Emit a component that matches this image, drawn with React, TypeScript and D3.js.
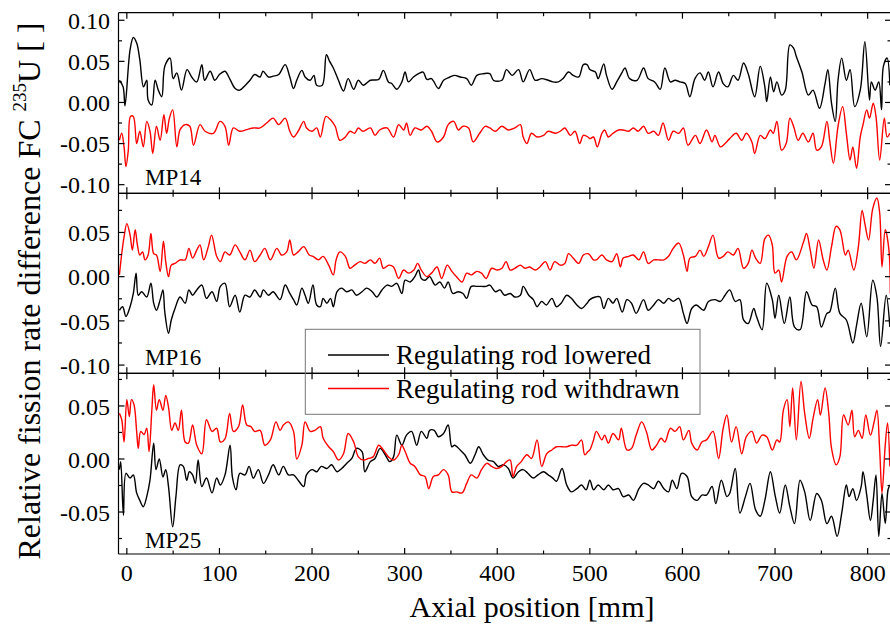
import React from 'react';
import * as d3 from 'd3';

const FONT = '"Liberation Serif", "Times New Roman", Times, serif';

// ---------- data: [axial position mm, relative difference] ----------
const mp14Lowered: [number, number][] = [[-8,.027],[-4,.019],[-2,-.004],[3.5,.064],[7,.079],[10.7,.072],[14,.052],[18,.019],[21.5,.027],[23,.003],[27,-.003],[30.5,.027],[34,.015],[37.7,.007],[41,.044],[46.7,.054],[50,.029],[54,.036],[59,.015],[65,.040],[70,.031],[75.5,.025],[81,.046],[84,.027],[90,.038],[95,.027],[100,.034],[106,.038],[111,.029],[117,.017],[122,.015],[128,.021],[133,.027],[138,.034],[144,.031],[147,.038],[153,.031],[158,.032],[164,.034],[171,.046],[176,.031],[180,.017],[183.5,.027],[189,.039],[192.5,.031],[198,.027],[202,.033],[205,.021],[211,.021],[215.5,.058],[219,.050],[223,.042],[228.5,.027],[234,.014],[239,.029],[245,.016],[250,.027],[255.5,.021],[263,.027],[272,.028],[277,.039],[282.5,.025],[286,.023],[291.5,.016],[297,.025],[300.5,.037],[304,.025],[309.5,.031],[315,.035],[320,.037],[324,.028],[329,.029],[336.5,.017],[342,.027],[349,.031],[354,.033],[360,.031],[367,.029],[372,.021],[378,.033],[385,.035],[392,.035],[396,.027],[405,.027],[410,.040],[416,.033],[423,.040],[428,.025],[435,.040],[441,.027],[448,.029],[455,.027],[460,.025],[466,.025],[471,.029],[477,.037],[482,.033],[488,.031],[493,.046],[497,.046],[500,.040],[506,.037],[509,.029],[515,.047],[518,.033],[524,.016],[529,.025],[535,.037],[538,.042],[543,.029],[551,.027],[558,.042],[563,.029],[570,.025],[576,.016],[581,.042],[587,.025],[592,.027],[597.5,.025],[603,.023],[608,.007],[613.5,.029],[619,.036],[624,.027],[628,.037],[633,.019],[639,.037],[644,.023],[649,.019],[655,.033],[660,.027],[666,.048],[671,.035],[678,.007],[684,.044],[689,.019],[691,.001],[695,.031],[698.5,.013],[702,.025],[707,.009],[711,.015],[716,.070],[720,.066],[723,.056],[729,.037],[736,.009],[741,.015],[748,-.007],[754,.023],[757,.040],[761,-.001],[765,-.023],[768,.027],[772,.054],[777,.027],[781,.040],[786,-.005],[792,.015],[797,.074],[802,.003],[804,.025],[808,.015],[812,.025],[815,-.009],[817,.044],[821,.054],[824,.021]];

const mp14Withdrawn: [number, number][] = [[-8,-.046],[-5.5,-.0375],[-3,-.054],[-1,-.078],[1.6,-.058],[4,-.017],[7,-.017],[10.6,-.050],[14,-.035],[17.8,-.054],[21.5,-.023],[25,-.035],[28,-.062],[32,-.029],[36,-.046],[40,-.015],[43,-.0375],[46,-.019],[49.5,-.009],[54,-.054],[57.5,-.033],[63,-.027],[68,-.029],[72,-.052],[79,-.027],[84.5,-.035],[93.5,-.0375],[100.6,-.023],[106,-.029],[110,-.052],[115,-.031],[122,-.035],[129.5,-.033],[136.6,-.031],[144,-.031],[151,-.025],[158,-.019],[164,-.027],[171,-.019],[176,-.035],[180,-.042],[185,-.035],[191,-.023],[194,-.031],[200,-.035],[205,-.031],[209,-.042],[215,-.017],[220,-.021],[225,-.029],[230,-.046],[236,-.042],[241,-.035],[246,-.0375],[250,-.031],[255,-.035],[263,-.031],[268,-.040],[273,-.0335],[281,-.031],[288,-.042],[293.5,-.027],[299,-.0335],[302,-.025],[306,-.040],[311,-.031],[318,-.0335],[324,-.029],[329,-.035],[335,-.048],[342,-.042],[347,-.027],[353,-.023],[358,-.0335],[363,-.029],[369,-.031],[374,-.048],[381,-.0375],[387,-.029],[392,-.031],[398,-.035],[405,-.029],[412,-.0335],[419,-.031],[425,-.027],[428,-.042],[432,-.050],[437,-.0375],[443,-.042],[450,-.040],[455,-.035],[463,-.0375],[468,-.035],[473,-.031],[479,-.040],[484,-.035],[489,-.050],[493,-.040],[498,-.042],[500,-.044],[504,-.042],[508,-.054],[513,-.0375],[516,-.0335],[520,-.042],[525,-.0375],[531,-.0335],[536,-.0335],[542,-.035],[547,-.031],[552,-.035],[558,-.029],[563,-.0375],[569,-.035],[574,-.040],[579,-.025],[585,-.046],[590,-.035],[596,-.0375],[601,-.031],[606,-.052],[614,-.040],[619,-.050],[626,-.0335],[632,-.048],[635,-.040],[641,-.054],[646,-.050],[651,-.044],[658,-.0375],[664,-.046],[669,-.0375],[675,-.048],[678,-.062],[684,-.040],[689,-.044],[695,-.0335],[698,-.0375],[702,-.023],[707,-.058],[712,-.050],[716,-.019],[720,-.029],[725,-.046],[730,-.0375],[736,-.048],[741,-.0375],[745,-.058],[750,-.054],[756,-.023],[759,-.046],[763,-.074],[768,-.029],[773,-.005],[777,-.0375],[781,-.070],[784,-.054],[788,-.080],[792,-.042],[795,-.027],[799,-.009],[802,-.019],[806,-.001],[809,-.017],[813,-.070],[818,-.019],[821,-.042],[824,-.0375]];

const mp16Lowered: [number, number][] = [[-8,-.038],[-4.5,-.034],[-1,-.045],[3.5,-.034],[7,-.019],[10,.004],[12.4,-.021],[16,-.017],[21.5,-.023],[26,-.0075],[29,-.030],[32,-.038],[36,-.026],[39,-.015],[41,-.040],[45,-.064],[48,-.049],[52,-.036],[57.5,-.023],[63,-.030],[67,-.015],[71,-.021],[75.5,-.015],[81,-.0095],[86,-.0245],[92,-.017],[97,-.028],[101,-.011],[106,-.0075],[111,-.034],[117,-.021],[122,-.040],[127.6,-.021],[133,-.023],[138,-.015],[144,-.023],[147.5,-.015],[153,-.021],[158,-.017],[165.5,-.026],[171,-.0095],[176,-.019],[180,-.026],[183.5,-.032],[189,-.013],[192.5,-.021],[196,-.030],[201,-.0095],[205,-.032],[209,-.034],[212,-.0245],[216,-.030],[220,-.0245],[223,-.034],[227,-.017],[232,-.013],[237.5,-.017],[243,-.015],[248,-.021],[254,-.017],[259,-.013],[265,-.017],[270,-.023],[275.5,-.015],[281,-.0095],[286,-.011],[291.5,-.0075],[297,-.019],[300.5,-.004],[306,-.006],[311,0],[315,.0075],[318,-.002],[322,-.004],[327,0],[333,-.0095],[338,-.006],[343,-.013],[347,-.006],[352,-.019],[358,-.017],[363,-.019],[367,-.0245],[372,-.011],[378,-.011],[383,-.011],[388,-.011],[392,-.0095],[398,-.017],[403,-.015],[408,-.021],[414,-.019],[419,-.023],[425,-.021],[428,-.011],[434,-.021],[439,-.026],[443,-.034],[448,-.028],[453,-.032],[459,-.0245],[464,-.034],[469,-.030],[475,-.021],[480,-.0245],[486,-.032],[491,-.036],[497,-.030],[500,-.026],[506,-.023],[511,-.023],[515,-.036],[520,-.0245],[525,-.030],[529,-.0245],[535,-.040],[540,-.026],[545,-.030],[550,-.0415],[558,-.026],[563,-.038],[569,-.032],[574,-.026],[580,-.030],[585,-.0245],[590,-.028],[596,-.0245],[601,-.0415],[605,-.053],[610,-.036],[615,-.032],[623,-.038],[628,-.028],[635,-.026],[641,-.028],[646,-.021],[651,-.015],[657,-.028],[662,-.026],[666,-.049],[671,-.053],[677,-.036],[680,-.045],[686,-.060],[691,-.0075],[697,-.026],[700,-.047],[704,-.021],[710,-.053],[716,-.023],[721,-.057],[727,-.060],[734,-.017],[740,-.032],[745,-.034],[750,-.057],[756,-.0415],[759,-.040],[765,-.013],[770,-.0415],[777,-.049],[784,-.075],[788,-.055],[793,-.030],[799,-.068],[805.5,-.004],[810,-.023],[814,-.079],[820,-.021],[824,-.057]];

const mp16Withdrawn: [number, number][] = [[-8,.002],[-5.5,.026],[-3,.045],[0,.060],[3.5,.047],[6,.030],[9,.053],[11.4,.036],[14,.0245],[17,.028],[19.6,.019],[23,.0245],[26,.049],[29,.026],[32,.0245],[36,.006],[39.5,.040],[42,.017],[45,0],[48,.013],[52,.015],[57.5,.019],[63,.019],[67,.032],[71,.021],[75.5,.030],[79,.036],[83,.019],[88,.034],[91.5,.047],[97,.023],[101,.017],[106,.028],[111,.0245],[117,.036],[122,.028],[127.6,.019],[133,.030],[138,.017],[144,.0245],[149,.032],[155,.019],[162,.032],[167,.0245],[172.6,.028],[176,.0415],[180,.0245],[185,.028],[191,.034],[197,.0245],[201,.023],[207,.019],[212,.023],[218,.013],[223,.002],[226,.019],[230,.028],[236,.023],[241,.0095],[246,.013],[252,.017],[257,.015],[263,.019],[268,.015],[273,.021],[277,.0095],[283,.013],[288,.011],[293.5,-.002],[299,.0075],[304,.004],[310,.0075],[314,.015],[318,.0075],[324,0],[329,.004],[335,.011],[340,-.002],[346,.013],[351,.006],[356,0],[362,-.006],[367,.004],[372,.002],[378,.006],[383,.004],[388,-.002],[394,.0095],[400,.0075],[405,.0095],[409.5,.017],[414,.0075],[419,.0095],[425,.013],[430,.0095],[435,.011],[441,.0075],[446,.011],[452,.017],[457,.0075],[462,.017],[468,.013],[473,.015],[477,.026],[482,.021],[488,.015],[493,.0245],[498,.026],[500,.0245],[504,.019],[507,.019],[513,.0245],[518,.019],[524,.017],[529,.026],[533,.011],[536,.021],[542,.023],[547,.0245],[553,.019],[558,.028],[563,.015],[569,.019],[574,.019],[580,.019],[585,.023],[590,.032],[596,.038],[601,.0245],[605,.006],[608,.021],[614,.023],[619,.030],[623,.023],[628,.034],[633,.047],[639,.021],[644,.023],[649,.028],[655,.0245],[660,.032],[666,.0095],[671,.015],[675,.030],[679,.021],[684,.015],[689,.043],[693,.047],[697,.036],[700,.004],[704,.0075],[707,-.006],[713,.023],[718,.028],[723,.019],[731,.040],[734,.049],[738,.030],[742,.0095],[747,.0415],[752,.019],[756,.0075],[761,.034],[766,.057],[770,.053],[776,.0245],[779,.030],[785,.0075],[790,.034],[794,.075],[797,.060],[801,.0415],[805.5,.077],[810,.089],[813,.072],[815.5,.011],[819,.053],[823,.030],[824.5,-.019]];

const mp25Lowered: [number, number][] = [[-8,-.010],[-6.6,-.0025],[-3.7,-.053],[-0.9,-.0135],[3.5,-.018],[7,-.015],[10.6,-.032],[14,-.039],[17.8,-.045],[21.5,-.0355],[25,-.020],[29,.015],[31.5,-.010],[35,0],[39,-.017],[42,-.010],[45,-.026],[49.5,-.064],[53,-.0355],[57.5,-.0055],[61,-.007],[64.7,-.020],[67.5,-.012],[71,-.015],[74,-.023],[77,-.001],[81,-.026],[86,-.018],[92,-.032],[97,-.018],[101,-.0245],[106,-.015],[111.5,.013],[114,-.017],[118,-.029],[122,-.0135],[127.6,-.015],[132,-.007],[136.6,-.018],[142,-.010],[147.5,-.023],[153,-.015],[158,-.0055],[164,-.015],[169,-.007],[174.5,-.015],[180,-.015],[185,-.020],[191,-.026],[194,-.015],[200,-.010],[205,-.012],[210,-.007],[216,-.009],[221,-.0055],[227,-.012],[232,-.009],[237.5,-.004],[243,.0005],[248,.010],[254,.007],[257,-.012],[263,-.0025],[268,.0005],[273.5,.010],[279,.004],[284,-.0025],[288,.002],[291.5,.0225],[297,.013],[302,.0225],[307.5,.026],[313,.013],[318,.026],[324,.0195],[327,.027],[332,.027],[336.5,.021],[342,.024],[347,.032],[351,.0115],[354,.013],[360,.0085],[365,.004],[371,-.004],[376,.004],[380,.0115],[385,.004],[390,-.001],[396,-.0025],[401,-.007],[407,-.0055],[412,-.009],[417,-.018],[423,-.012],[428,-.010],[433,-.0135],[439,-.018],[444,-.015],[450,-.012],[455,-.015],[460,-.018],[464,-.021],[470,-.009],[475,-.0245],[480,-.031],[486,-.028],[491,-.0245],[496,-.029],[500,-.020],[504,-.029],[509,-.0245],[515,-.029],[520,-.0245],[525,-.029],[531,-.028],[536,-.0355],[542,-.034],[547,-.039],[553,-.028],[558,-.023],[563,-.0245],[569,-.028],[574,-.021],[580,-.028],[585,-.031],[589,-.020],[594,-.028],[599,-.0135],[605,-.0165],[610,-.0355],[616,-.039],[621,-.034],[626,-.034],[632,-.026],[636,-.042],[642,-.020],[648,-.0355],[651,-.0325],[657,-.009],[662,-.051],[668,-.0355],[673,-.023],[679,-.048],[684,-.054],[689,-.039],[695,-.012],[700,-.034],[705,-.051],[711,-.0245],[716,-.045],[721,-.061],[727,-.020],[732,-.031],[738,-.058],[745,-.0325],[750,-.039],[756,-.061],[761,-.054],[767,-.073],[772,-.051],[777,-.0245],[780,-.0355],[784,-.028],[788,-.039],[793,-.026],[795,-.012],[799,-.034],[803,-.058],[806,-.039],[809,-.015],[812,-.073],[815.5,-.0325],[819,-.061],[822,-.029],[824,-.0245]];

const mp25Withdrawn: [number, number][] = [[-8,.043],[-5.5,.037],[-3,.016],[0,.056],[2.7,.040],[5,.056],[7.8,.051],[10.6,.026],[12.4,.010],[15,.026],[18.6,.023],[21.5,.029],[24,.007],[27,.046],[29,.070],[32,.046],[35,.056],[39,.046],[42,.060],[45,.049],[48.5,.027],[52,.034],[55.6,.027],[59,.046],[63,.016],[66.5,.015],[71,.032],[75.5,.013],[81,.005],[86,.037],[92,.026],[97,.029],[101,.016],[106,.019],[111,.043],[115,.026],[120.6,.0305],[125,.051],[129.5,.032],[134,.0305],[138,.026],[144,.027],[149,.013],[155,.018],[161,.035],[165.5,.027],[169,.032],[174.5,.035],[180,.026],[183.5,0],[189,.013],[192.5,.035],[198,.026],[203,.027],[209,.0305],[212,.0195],[218,.0115],[223,.007],[228.5,-.001],[234,.005],[239,.024],[245,.016],[250,.002],[255.5,-.001],[261,.0005],[266,.002],[272,.013],[277,.0085],[282.5,.002],[288,-.001],[293.5,.004],[297,.013],[300.5,.007],[306,-.004],[311,-.007],[317,-.015],[322,-.0165],[326,-.028],[331,-.0165],[336.5,-.015],[342,-.010],[347,-.015],[351,-.031],[356,-.031],[362,-.032],[367,-.023],[372,-.015],[378,-.018],[383,-.010],[389,-.004],[394,-.007],[399,-.009],[405,-.007],[410,-.0025],[414,-.001],[417,-.0165],[421,-.007],[426,-.0025],[432,.004],[437,.0005],[443,.018],[448,-.007],[453.5,.005],[459,.0085],[464,.0115],[470,.0115],[475,.0115],[480,.013],[486,.013],[491,.018],[494.5,.004],[498,.007],[500,.0085],[504,.018],[507,.026],[513,.018],[516,.0225],[520,.015],[525,.024],[531,.018],[534,.029],[540,.0085],[545,.010],[550,.0225],[556,.035],[561,.026],[567,.0085],[572,.013],[577,.0195],[581,.016],[587,.029],[592,.026],[597,.0305],[601,.018],[607,.027],[610,.015],[616,.0085],[621,.016],[626,.018],[633,.026],[639,.0005],[644,.029],[648,.0415],[653,.016],[658,.0305],[664,.005],[669,.021],[675,.026],[680,.015],[686,.0225],[691,.021],[697,.0085],[702,.018],[705,.016],[709,.046],[713,.056],[716,.0305],[719,.067],[723,.018],[728,.073],[732,.043],[737,.0195],[741,.038],[746,.056],[749,.0415],[754,.067],[758,.043],[761,.010],[766,-.0055],[770,.002],[774,.0415],[779,.032],[783,.046],[786,.021],[790,.027],[794,.0195],[798,.0415],[803,.0225],[807,.035],[810,.046],[813,.0085],[815.5,-.032],[819,.013],[821.5,.034],[824,-.007]];

const panelNames = ['MP14', 'MP16', 'MP25'];
const seriesNames = ['Regulating rod lowered', 'Regulating rod withdrawn'];
const seriesColors = ['#000000', '#ff0000'];
const xMajorTicks = [0, 100, 200, 300, 400, 500, 600, 700, 800];
const xMinorTicks = [50, 150, 250, 350, 450, 550, 650, 750];
const yMajorMP14 = [-0.1, -0.05, 0, 0.05, 0.1];
const yMajorMP16 = [-0.1, -0.05, 0, 0.05];
const yMajorMP25 = [-0.05, 0, 0.05];
const yMinorTicks = [-0.075, -0.025, 0.025, 0.075];
const xTitle = 'Axial position [mm]';

export default function App() {
  const left = 118.5, right = 891;
  const x = d3.scaleLinear().domain([-9, 825]).range([left, 890.8]);

  const panels = [
    { name: panelNames[0], data: [mp14Lowered, mp14Withdrawn], top: 12.7, bottom: 193.3, domain: [-0.1105, 0.1092], major: yMajorMP14, labelY: 185 },
    { name: panelNames[1], data: [mp16Lowered, mp16Withdrawn], top: 193.3, bottom: 373.3, domain: [-0.1093, 0.0943], major: yMajorMP16, labelY: 365 },
    { name: panelNames[2], data: [mp25Lowered, mp25Withdrawn], top: 373.3, bottom: 554, domain: [-0.0896, 0.0808], major: yMajorMP25, labelY: 547.5 },
  ];

  const axisStroke = { stroke: '#000', strokeWidth: 1.2 };

  return (
    <svg width={890} height={626} style={{ position: 'absolute', left: 0, top: 0, background: '#fff' }} fontFamily={FONT}>
      <defs>
        {panels.map((p, i) => (
          <clipPath id={`clip${i}`} key={i}>
            <rect x={left} y={p.top} width={right - left} height={p.bottom - p.top} />
          </clipPath>
        ))}
      </defs>
      {panels.map((p, i) => {
        const y = d3.scaleLinear().domain(p.domain).range([p.bottom, p.top]);
        const line = d3.line<[number, number]>().x(d => x(d[0])).y(d => y(d[1])).curve(d3.curveCatmullRom.alpha(0.5));
        const minorY = yMinorTicks.filter(v => v > p.domain[0] && v < p.domain[1]);
        return (
          <g key={i}>
            <g clipPath={`url(#clip${i})`}>
              {p.data.map((s, j) => (
                <path key={j} d={line(s) || ''} fill="none" stroke={seriesColors[j]} strokeWidth={1.4} strokeLinejoin="round" />
              ))}
            </g>
            {p.major.map(v => (
              <g key={'M' + v}>
                <line x1={left} x2={left + 6} y1={y(v)} y2={y(v)} {...axisStroke} />
                <line x1={right} x2={right - 6} y1={y(v)} y2={y(v)} {...axisStroke} />
                <text x={110} y={y(v)} dy="0.36em" textAnchor="end" fontSize={24}>{v.toFixed(2)}</text>
              </g>
            ))}
            {minorY.map(v => (
              <g key={'m' + v}>
                <line x1={left} x2={left + 3.5} y1={y(v)} y2={y(v)} {...axisStroke} />
                <line x1={right} x2={right - 3.5} y1={y(v)} y2={y(v)} {...axisStroke} />
              </g>
            ))}
            {xMajorTicks.map(t => (
              <g key={'xt' + t}>
                <line x1={x(t)} x2={x(t)} y1={p.top} y2={p.top + 6} {...axisStroke} />
                <line x1={x(t)} x2={x(t)} y1={p.bottom} y2={p.bottom - 6} {...axisStroke} />
              </g>
            ))}
            {xMinorTicks.map(t => (
              <g key={'xm' + t}>
                <line x1={x(t)} x2={x(t)} y1={p.top} y2={p.top + 3.5} {...axisStroke} />
                <line x1={x(t)} x2={x(t)} y1={p.bottom} y2={p.bottom - 3.5} {...axisStroke} />
              </g>
            ))}
            <line x1={left} x2={right} y1={p.top} y2={p.top} {...axisStroke} />
            <line x1={left} x2={right} y1={p.bottom} y2={p.bottom} {...axisStroke} />
            <text x={145} y={p.labelY} fontSize={23}>{p.name}</text>
          </g>
        );
      })}
      <line x1={left} x2={left} y1={12.7} y2={554} {...axisStroke} />
      {xMajorTicks.map(t => (
        <text key={'xl' + t} x={x(t)} y={580.5} textAnchor="middle" fontSize={24}>{String(t)}</text>
      ))}
      <text x={532} y={617} textAnchor="middle" fontSize={30}>{xTitle}</text>
      <text transform="translate(40,291) rotate(-90)" textAnchor="middle" fontSize={32}>
        Relative fission rate difference FC <tspan fontSize={19} dy={-14}>235</tspan><tspan dy={14}>U [ ]</tspan>
      </text>
      <rect x={305.3} y={329.3} width={394.7} height={85} fill="none" stroke="#777" strokeWidth={1} />
      {seriesNames.map((n, j) => (
        <g key={n}>
          <line x1={328} x2={389} y1={355 + j * 33.5} y2={355 + j * 33.5} stroke={seriesColors[j]} strokeWidth={1.4} />
          <text x={396} y={364.3 + j * 33.5} fontSize={27}>{n}</text>
        </g>
      ))}
    </svg>
  );
}
